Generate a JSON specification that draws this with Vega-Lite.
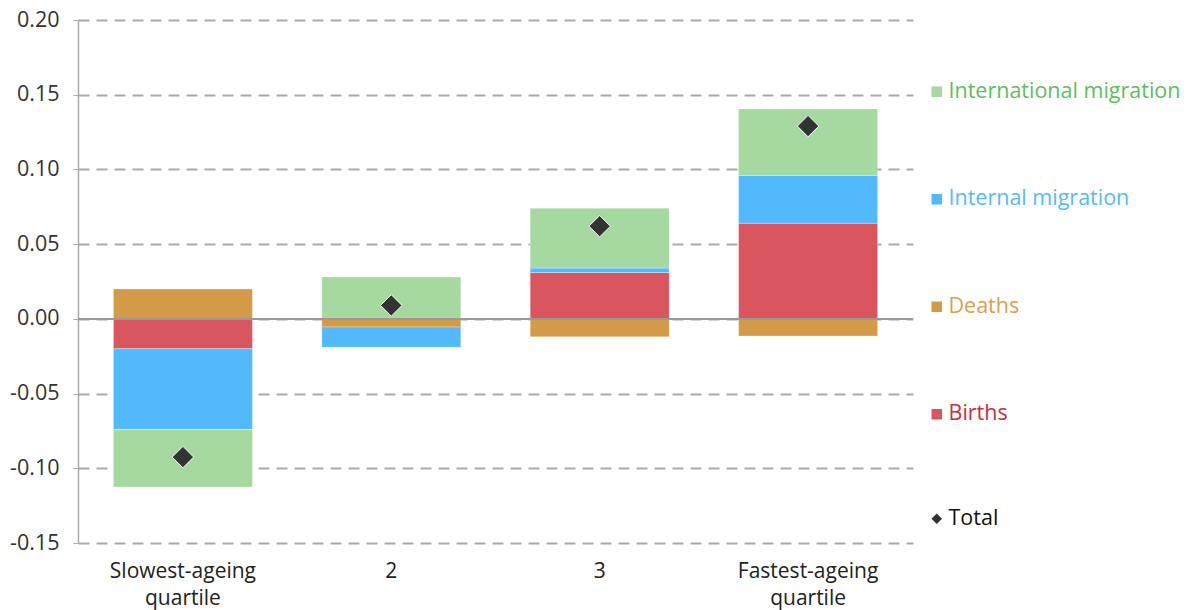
{
  "$schema": "https://vega.github.io/schema/vega-lite/v6.json",
  "autosize": "none",
  "width": 835,
  "height": 523,
  "padding": {"left": 78, "top": 20, "right": 276, "bottom": 67},
  "background": "white",
  "config": {
    "font": "Open Sans",
    "view": {"stroke": null},
    "axis": {"labelFont": "Open Sans", "labelFontSize": 21, "labelColor": "#222"}
  },
  "data": {
    "values": [
      {"quartile": "Slowest-ageing quartile", "component": "Deaths", "value": 0.020},
      {"quartile": "Slowest-ageing quartile", "component": "Births", "value": -0.020},
      {"quartile": "Slowest-ageing quartile", "component": "Internal migration", "value": -0.054},
      {"quartile": "Slowest-ageing quartile", "component": "International migration", "value": -0.0385},
      {"quartile": "2", "component": "Deaths", "value": -0.0055},
      {"quartile": "2", "component": "Births", "value": 0.0},
      {"quartile": "2", "component": "Internal migration", "value": -0.0135},
      {"quartile": "2", "component": "International migration", "value": 0.028},
      {"quartile": "3", "component": "Deaths", "value": -0.012},
      {"quartile": "3", "component": "Births", "value": 0.031},
      {"quartile": "3", "component": "Internal migration", "value": 0.003},
      {"quartile": "3", "component": "International migration", "value": 0.040},
      {"quartile": "Fastest-ageing quartile", "component": "Deaths", "value": -0.0115},
      {"quartile": "Fastest-ageing quartile", "component": "Births", "value": 0.064},
      {"quartile": "Fastest-ageing quartile", "component": "Internal migration", "value": 0.032},
      {"quartile": "Fastest-ageing quartile", "component": "International migration", "value": 0.0445}
    ]
  },
  "layer": [
    {
      "mark": {"type": "bar", "stroke": "white", "strokeWidth": 0.5, "strokeOpacity": 0.6},
      "encoding": {
        "x": {
          "field": "quartile", "type": "nominal",
          "sort": ["Slowest-ageing quartile", "2", "3", "Fastest-ageing quartile"],
          "scale": {"paddingInner": 0.333, "paddingOuter": 0.17},
          "axis": {"title": null, "domain": false, "ticks": false, "labelAngle": 0, "labelPadding": 17, "labelLineHeight": 27, "labelExpr": "split(datum.label, ' ')"}
        },
        "y": {
          "field": "value", "type": "quantitative", "stack": "zero",
          "scale": {"domain": [-0.15, 0.2], "nice": false},
          "axis": {"title": null, "values": [-0.15, -0.1, -0.05, 0, 0.05, 0.1, 0.15, 0.2], "format": ".2f", "labelExpr": "replace(datum.label, '−', '-')",
                   "grid": true, "gridColor": "#aaaaaa", "gridWidth": 2, "gridDash": [11, 7],
                   "domain": true, "domainColor": "#aaaaaa", "domainWidth": 1.5,
                   "tickColor": "#aaaaaa", "tickSize": 5, "labelPadding": 14, "labelColor": "#333", "labelFontSize": 21.5}
        },
        "color": {
          "field": "component", "type": "nominal",
          "scale": {
            "domain": ["International migration", "Internal migration", "Deaths", "Births"],
            "range": ["#a5d9a0", "#52b9fc", "#d39a47", "#d9565f"]
          },
          "legend": {
            "title": null, "orient": "none", "legendX": 848, "legendY": 61,
            "symbolType": "square", "symbolSize": 110, "symbolStrokeWidth": 0,
            "labelFontSize": 21.5, "labelFont": "Open Sans", "labelOffset": 1, "rowPadding": 84.5, "padding": 0,
            "labelLimit": 400,
            "labelColor": {"expr": "datum.label == 'International migration' ? '#5cbf5e' : datum.label == 'Internal migration' ? '#55bbf8' : datum.label == 'Deaths' ? '#d9a050' : '#c9303a'"}
          }
        },
        "order": {"field": "component", "sort": "ascending"}
      }
    },
    {
      "mark": {"type": "rule", "color": "#999999", "strokeWidth": 1.5},
      "encoding": {"y": {"datum": 0}}
    },
    {
      "transform": [{"aggregate": [{"op": "sum", "field": "value", "as": "total"}], "groupby": ["quartile"]}],
      "mark": {"type": "point", "filled": true, "color": "#333333", "stroke": "white", "strokeWidth": 1, "opacity": 1, "size": 460},
      "encoding": {
        "x": {"field": "quartile", "type": "nominal", "sort": ["Slowest-ageing quartile", "2", "3", "Fastest-ageing quartile"]},
        "y": {"field": "total", "type": "quantitative"},
        "shape": {
          "datum": "Total",
          "scale": {"range": ["diamond"]},
          "legend": {
            "title": null, "orient": "none", "legendX": 848, "legendY": 488,
            "symbolSize": 110, "symbolFillColor": "#333333", "symbolStrokeWidth": 0,
            "labelFontSize": 21.5, "labelFont": "Open Sans", "labelOffset": 1, "labelColor": "#111", "padding": 0
          }
        }
      }
    }
  ]
}
